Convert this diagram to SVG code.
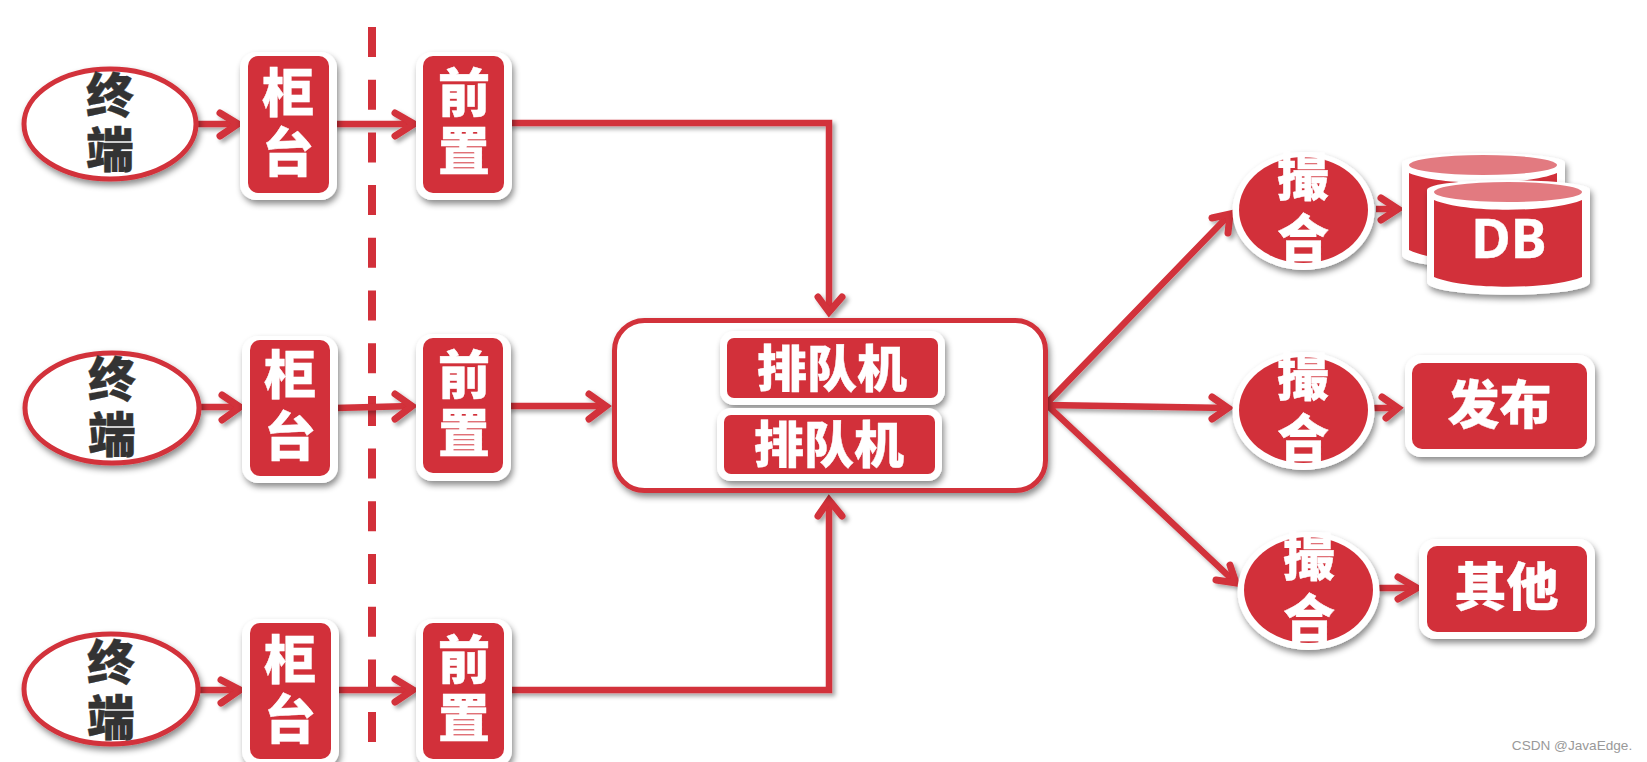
<svg xmlns="http://www.w3.org/2000/svg" width="1647" height="762" viewBox="0 0 1647 762">
<style>
.w{fill:#fff;filter:url(#sh)}
.r{fill:#d2303a}
.ell{fill:#fff;stroke:#d2303a;stroke-width:5;filter:url(#sh)}
.c{fill:none;stroke:#d2303a;stroke-width:6.5;stroke-linejoin:miter}
.a{fill:none;stroke:#d2303a;stroke-width:7;stroke-linecap:round;stroke-linejoin:miter}
text{font-family:"Noto Sans CJK SC","Noto Sans",sans-serif;font-weight:900;text-anchor:middle;fill:#fff;stroke:#fff;stroke-width:.4}
.k{fill:#333;stroke:#333;font-size:48px}
.n{font-size:52px}
.s{font-size:50px}
</style>
<defs>
<filter id="sh" x="-15%" y="-15%" width="130%" height="130%"><feDropShadow dx="2" dy="4" stdDeviation="3" flood-color="#000" flood-opacity=".45"/></filter>
<filter id="ls" filterUnits="userSpaceOnUse" x="0" y="0" width="1647" height="762"><feDropShadow dx="3" dy="3" stdDeviation="2" flood-color="#000" flood-opacity=".35"/></filter>
</defs>
<rect width="1647" height="762" fill="#fff"/>
<g id="connectors">
<path d="M372 27V742" stroke="#d2303a" stroke-width="8" stroke-dasharray="30 22.7" fill="none"/>
<g filter="url(#ls)">
<path class="c" d="M198 124H238M333 124H414M508 123H829V312"/>
<path class="a" d="M220 113L238 124L220 136M395 113L414 124L395 136M818 297L829 312L842 297"/>
<path class="c" d="M200 407H240M335 408L412 406M507 406H606"/>
<path class="a" d="M222 395L240 407L222 420M395 394L412 406L395 419M589 394L606 406L589 419"/>
<path class="c" d="M200 690H240M336 690H413M508 690H829V500"/>
<path class="a" d="M221 680L240 690L221 703M395 679L413 690L395 702M818 516L829 500L842 516"/>
<path class="c" d="M1047 403L1230 214M1047 405L1228 408M1047 405L1236 583"/>
<path class="a" d="M1212 218L1230 214L1228 233M1212 397L1228 408L1212 419M1216 580L1236 583L1230 565"/>
<path class="c" d="M1376 209H1398M1372 408H1398M1377 588H1417"/>
<path class="a" d="M1381 198L1398 209L1381 220M1382 397L1398 408L1386 418M1398 577L1417 588L1398 599"/>
</g>
</g>
<g id="t1"><ellipse class="ell" cx="110" cy="124" rx="86" ry="55"/><text class="k"><tspan x="110" y="113">终</tspan><tspan x="110" y="167">端</tspan></text></g>
<g id="t2"><ellipse class="ell" cx="112" cy="408" rx="87" ry="55"/><text class="k"><tspan x="112" y="397">终</tspan><tspan x="112" y="452">端</tspan></text></g>
<g id="t3"><ellipse class="ell" cx="111" cy="689" rx="87" ry="55"/><text class="k"><tspan x="111" y="680">终</tspan><tspan x="111" y="735">端</tspan></text></g>
<g id="g1"><rect class="w" x="240" y="52" width="97" height="148" rx="16"/><rect class="r" x="248" y="56" width="81" height="137" rx="10"/><text class="n"><tspan x="288" y="112">柜</tspan><tspan x="288" y="172">台</tspan></text></g>
<g id="g2"><rect class="w" x="242" y="336" width="96" height="147" rx="16"/><rect class="r" x="250" y="340" width="80" height="136" rx="10"/><text class="n"><tspan x="290" y="394">柜</tspan><tspan x="290" y="456">台</tspan></text></g>
<g id="g3"><rect class="w" x="242" y="619" width="97" height="148" rx="16"/><rect class="r" x="250" y="623" width="81" height="136" rx="10"/><text class="n"><tspan x="290" y="679">柜</tspan><tspan x="290" y="739">台</tspan></text></g>
<g id="f1"><rect class="w" x="416" y="52" width="96" height="148" rx="16"/><rect class="r" x="423" y="56" width="81" height="137" rx="10"/><text class="n"><tspan x="464" y="112">前</tspan><tspan x="464" y="170">置</tspan></text></g>
<g id="f2"><rect class="w" x="416" y="334" width="95" height="147" rx="16"/><rect class="r" x="423" y="338" width="80" height="135" rx="10"/><text class="n"><tspan x="464" y="394">前</tspan><tspan x="464" y="452">置</tspan></text></g>
<g id="f3"><rect class="w" x="416" y="619" width="96" height="148" rx="16"/><rect class="r" x="423" y="623" width="81" height="136" rx="10"/><text class="n"><tspan x="464" y="679">前</tspan><tspan x="464" y="737">置</tspan></text></g>
<g id="queue"><rect x="614.5" y="320.5" width="431" height="170" rx="30" class="ell"/></g>
<g id="q1"><rect class="w" x="720" y="331" width="225" height="74" rx="14"/><rect class="r" x="727" y="338" width="211" height="60" rx="7"/><text class="s" x="832" y="387">排队机</text></g>
<g id="q2"><rect class="w" x="717" y="408" width="225" height="73" rx="14"/><rect class="r" x="724" y="415" width="211" height="59" rx="7"/><text class="s" x="829" y="463">排队机</text></g>
<g id="m1"><ellipse class="w" cx="1303.5" cy="211" rx="71" ry="59"/><ellipse class="r" cx="1303.5" cy="210" rx="64.5" ry="53"/><text class="n"><tspan x="1303" y="196">撮</tspan><tspan x="1303" y="258">合</tspan></text></g>
<g id="m2"><ellipse class="w" cx="1303.5" cy="411" rx="71" ry="59"/><ellipse class="r" cx="1303.5" cy="410" rx="64.5" ry="53"/><text class="n"><tspan x="1303" y="396">撮</tspan><tspan x="1303" y="458">合</tspan></text></g>
<g id="m3"><ellipse class="w" cx="1308.5" cy="591" rx="71" ry="59"/><ellipse class="r" cx="1308.5" cy="590" rx="64.5" ry="53"/><text class="n"><tspan x="1309" y="576">撮</tspan><tspan x="1309" y="638">合</tspan></text></g>
<g id="db1"><path class="w" d="M1402 163C1402 150 1565 150 1565 163V255C1565 272 1402 272 1402 255Z"/><path class="r" d="M1409 173C1440 186 1526 186 1557 173V250C1526 265 1440 265 1409 250Z"/><ellipse cx="1483" cy="165" rx="74" ry="10" fill="#e27a80"/></g>
<g id="db2"><path class="w" d="M1427 190C1427 177 1590 177 1590 190V282C1590 299 1427 299 1427 282Z"/><path class="r" d="M1434 200C1465 213 1551 213 1582 200V277C1551 290 1465 290 1434 277Z"/><ellipse cx="1508" cy="192" rx="74" ry="10" fill="#e27a80"/><text x="1509" y="258" style="font-size:54px;font-family:'Noto Sans',sans-serif;font-weight:700">DB</text></g>
<g id="pub"><rect class="w" x="1405" y="355" width="190" height="102" rx="16"/><rect class="r" x="1412" y="363" width="175" height="86" rx="10"/><text class="n" x="1499.5" y="424">发布</text></g>
<g id="oth"><rect class="w" x="1419" y="539" width="176" height="100" rx="16"/><rect class="r" x="1427" y="546" width="160" height="86" rx="10"/><text class="n" x="1506.5" y="606">其他</text></g>
<text x="1572" y="750" style="font-family:'Liberation Sans',sans-serif;font-size:13.6px;font-weight:400;fill:#999;stroke:none">CSDN @JavaEdge.</text>
</svg>
